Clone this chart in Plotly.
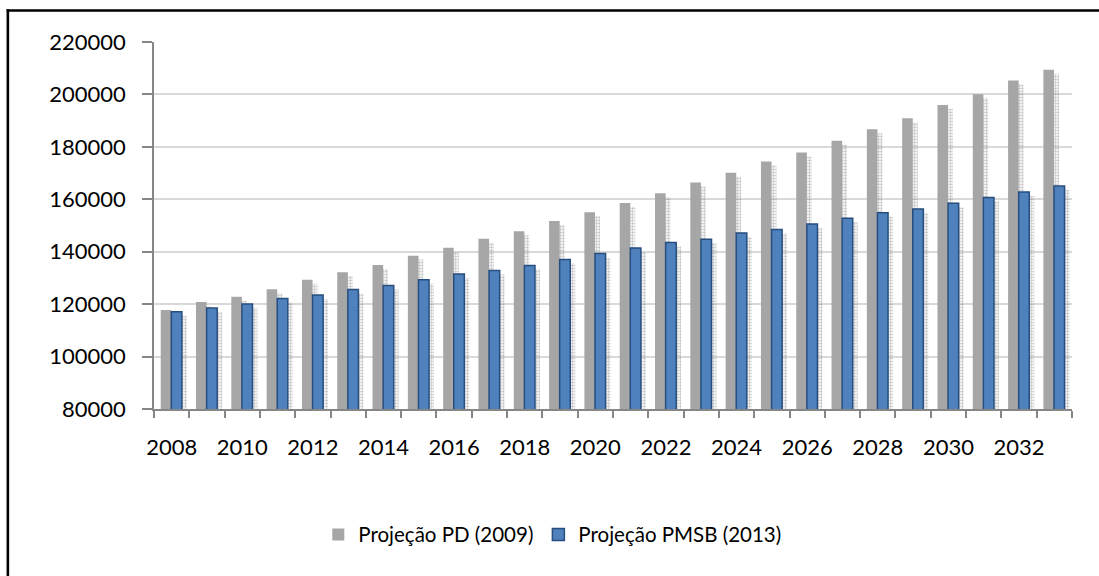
import plotly.graph_objects as go

years = list(range(2008, 2034))
pd_2009 = [117800, 120800, 122800, 125700, 129300, 132200, 134900, 138500, 141500, 144900,
           147800, 151700, 155100, 158600, 162300, 166400, 170100, 174400, 177800, 182300,
           186700, 190900, 196000, 200100, 205300, 209400]
pmsb_2013 = [117100, 118500, 120100, 122200, 123500, 125600, 127100, 129300, 131500, 132800,
             134700, 137000, 139300, 141400, 143500, 144800, 147100, 148500, 150600, 152800,
             154900, 156300, 158500, 160700, 162800, 165100]
x_tick_labels = [str(y) for y in range(2008, 2034, 2)]
name_pd = "Projeção PD (2009)"
name_pmsb = "Projeção PMSB (2013)"

FONT = "Lato"
GRAY = "#a6a6a6"
BLUE = "#4f81bd"
BLUE_LINE = "#274e7f"
AXIS = "#868686"

# plot area in pixels
L, R, T, B = 153.5, 1072.5, 42, 409.3
W, H = 1099, 576
pw, ph = R - L, B - T
def px_x(p):
    return (p - L) / pw
def px_y(p):
    return (B - p) / ph

shadow_drop = 1500
shadow_shift = 0.14
shadow_base = 70000
pattern = dict(shape=".", fgcolor="#8c8c8c", bgcolor="rgba(255,255,255,0)", size=3, solidity=0.5)

fig = go.Figure()
# soft shadows behind the bars (derived from the same series)
fig.add_trace(go.Bar(x=years, y=[v - shadow_drop - shadow_base for v in pd_2009], base=shadow_base,
                     offset=-0.31 + shadow_shift, width=0.30,
                     marker=dict(color="rgba(0,0,0,0)", pattern=pattern, line=dict(width=0)),
                     showlegend=False, hoverinfo="skip"))
fig.add_trace(go.Bar(x=years, y=[v - shadow_drop - shadow_base for v in pmsb_2013], base=shadow_base,
                     offset=-0.01 + shadow_shift, width=0.30,
                     marker=dict(color="rgba(0,0,0,0)", pattern=pattern, line=dict(width=0)),
                     showlegend=False, hoverinfo="skip"))
# main bars
fig.add_trace(go.Bar(x=years, y=pd_2009, name=name_pd, offset=-0.31, width=0.30,
                     marker=dict(color=GRAY, line=dict(width=0))))
fig.add_trace(go.Bar(x=years, y=pmsb_2013, name=name_pmsb, offset=-0.01, width=0.30,
                     marker=dict(color=BLUE, line=dict(width=1.5, color=BLUE_LINE))))

border = dict(color="#000000", width=2.6)
fig.update_layout(
    width=W, height=H,
    margin=dict(l=L, r=W - R, t=T, b=H - B, pad=0),
    paper_bgcolor="white", plot_bgcolor="white",
    barmode="overlay",
    font=dict(family=FONT, size=22, color="#000000"),
    showlegend=True,
    legend=dict(orientation="h", x=px_x(318), xanchor="left", y=px_y(535), yanchor="middle",
                font=dict(family=FONT, size=20.5, color="#000000"), traceorder="normal",
                bgcolor="rgba(0,0,0,0)"),
    xaxis=dict(range=[2007.5, 2033.5], tickmode="array",
               tickvals=list(range(2008, 2034, 2)), ticktext=x_tick_labels,
               ticks="", showgrid=False, zeroline=False,
               showline=True, linecolor=AXIS, linewidth=1.5,
               ticklabelstandoff=18,
               minor=dict(ticks="outside", ticklen=7, tickcolor=AXIS, tickwidth=1.5,
                          tick0=2007.5, dtick=1, showgrid=False)),
    yaxis=dict(range=[80000, 220000], tickmode="linear", tick0=80000, dtick=20000,
               tickformat="d", ticks="outside", ticklen=10, tickcolor=AXIS, tickwidth=1.5,
               showline=True, linecolor=AXIS, linewidth=1.5,
               showgrid=True, gridcolor="#d9d9d9", gridwidth=1.5, zeroline=False,
               ticklabelstandoff=12),
    shapes=[
        dict(type="line", xref="paper", yref="paper",
             x0=px_x(5.9), x1=px_x(1105), y0=px_y(10.5), y1=px_y(10.5),
             line=border, layer="above"),
        dict(type="line", xref="paper", yref="paper",
             x0=px_x(7.2), x1=px_x(7.2), y0=px_y(9.2), y1=px_y(590),
             line=border, layer="above"),
    ],
)

fig.write_html("out.html", config={"displayModeBar": False},
               post_script=("document.body.style.margin='0px';"
                            "document.body.style.overflow='hidden';"
                            "document.documentElement.style.overflow='hidden';"))
